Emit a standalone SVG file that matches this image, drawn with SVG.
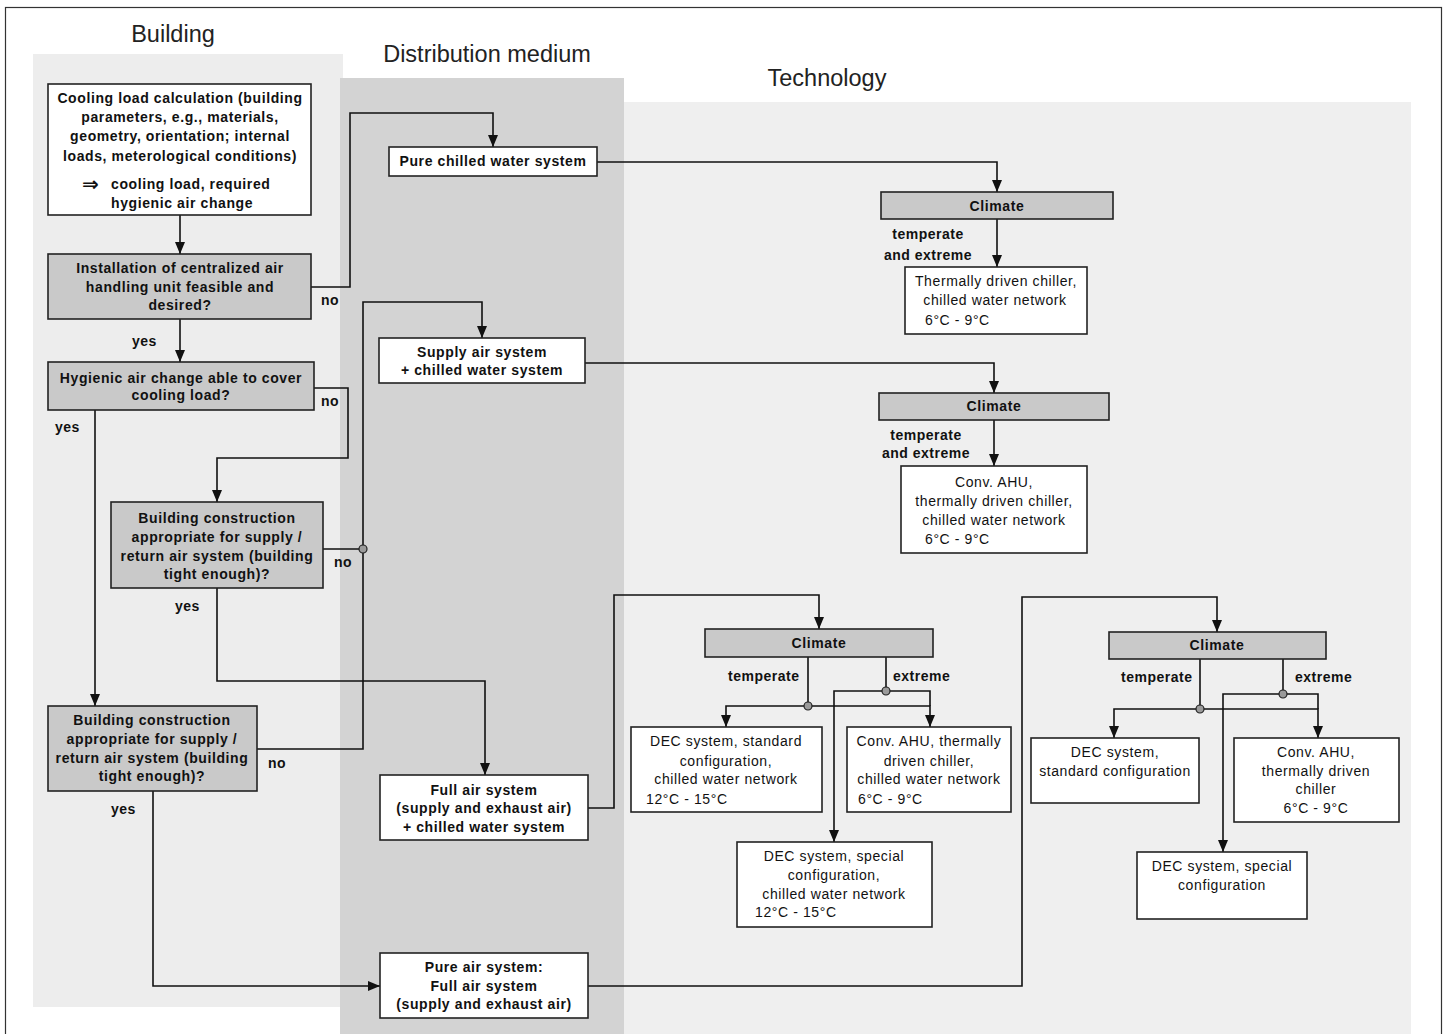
<svg xmlns="http://www.w3.org/2000/svg" width="1447" height="1034" viewBox="0 0 1447 1034">
<defs>
<marker id="arr" viewBox="0 0 12 10" refX="12" refY="5" markerWidth="12" markerHeight="10" markerUnits="userSpaceOnUse" orient="auto"><path d="M0,0 L12,5 L0,10 z" fill="#111"/></marker>
<style>
.title{font-family:"Liberation Sans",Arial,sans-serif;font-size:23.5px;fill:#222;text-anchor:middle}
.box{fill:#fff;stroke:#222;stroke-width:1.6}
.gbox{fill:#c9c9c9;stroke:#222;stroke-width:1.6}
.tb{font-family:"Liberation Sans",Arial,sans-serif;font-size:14px;letter-spacing:0.6px;font-weight:bold;fill:#111;text-anchor:middle}
.tr{font-family:"Liberation Sans",Arial,sans-serif;font-size:14px;letter-spacing:0.6px;fill:#111;text-anchor:middle}
.tl{text-anchor:start}
.lbl{font-family:"Liberation Sans",Arial,sans-serif;font-size:14px;letter-spacing:0.5px;font-weight:bold;fill:#111}
.c{fill:none;stroke:#111;stroke-width:1.6}
.a{marker-end:url(#arr)}
.j{fill:#9a9a9a;stroke:#222;stroke-width:1.2}
</style>
</defs>
<rect x="0" y="0" width="1447" height="1034" fill="#fff"/>
<rect x="5.5" y="7.5" width="1436" height="1040" fill="none" stroke="#333" stroke-width="1.2"/>
<g id="panels">
<rect x="33" y="54" width="310" height="953" fill="#ededed"/>
<rect x="624" y="102" width="787" height="932" fill="#efefef"/>
<rect x="340" y="78" width="284" height="956" fill="#d3d3d3"/>
</g>
<g id="titles">
<text class="title" x="173" y="42">Building</text>
<text class="title" x="487" y="62">Distribution medium</text>
<text class="title" x="827" y="86">Technology</text>
</g>
<g id="connectors">
<path class="c a" d="M180,215 V254"/>
<path class="c a" d="M311,287 H350 V113 H493 V147"/>
<path class="c a" d="M180,319 V362"/>
<path class="c a" d="M314,388 H348 V458 H217 V502"/>
<path class="c a" d="M95,410 V706"/>
<path class="c" d="M323,549 H363"/>
<path class="c a" d="M257,749 H363 V302 H482 V338"/>
<path class="c a" d="M217,588 V681 H485 V775"/>
<path class="c a" d="M153,791 V986 H380"/>
<path class="c a" d="M597,162 H997 V192"/>
<path class="c a" d="M997,219 V267"/>
<path class="c a" d="M585,363 H994 V393"/>
<path class="c a" d="M994,420 V466"/>
<path class="c a" d="M588,808 H614 V595 H819 V629"/>
<path class="c a" d="M588,986 H1022 V597 H1217 V632"/>
<path class="c" d="M808,657 V706"/>
<path class="c a" d="M808,706 H726 V727"/>
<path class="c a" d="M808,706 H930 V727"/>
<path class="c" d="M886,657 V691"/>
<path class="c a" d="M886,691 H834 V842"/>
<path class="c" d="M886,691 H930 V706"/>
<path class="c" d="M1200,659 V709"/>
<path class="c a" d="M1200,709 H1114 V738"/>
<path class="c a" d="M1200,709 H1318 V738"/>
<path class="c" d="M1283,659 V694"/>
<path class="c a" d="M1283,694 H1223 V852"/>
<path class="c" d="M1283,694 H1318 V709"/>
<circle class="j" cx="363" cy="549" r="4"/>
<circle class="j" cx="808" cy="706" r="4"/>
<circle class="j" cx="886" cy="691" r="4"/>
<circle class="j" cx="1200" cy="709" r="4"/>
<circle class="j" cx="1283" cy="694" r="4"/>
</g>
<g id="labels">
<text class="lbl" x="321" y="305">no</text>
<text class="lbl" x="132" y="346">yes</text>
<text class="lbl" x="321" y="406">no</text>
<text class="lbl" x="55" y="432">yes</text>
<text class="lbl" x="334" y="567">no</text>
<text class="lbl" x="175" y="611">yes</text>
<text class="lbl" x="268" y="768">no</text>
<text class="lbl" x="111" y="814">yes</text>
<text class="lbl" x="928" y="239" text-anchor="middle">temperate</text>
<text class="lbl" x="928" y="260" text-anchor="middle">and extreme</text>
<text class="lbl" x="926" y="440" text-anchor="middle">temperate</text>
<text class="lbl" x="926" y="458" text-anchor="middle">and extreme</text>
<text class="lbl" x="728" y="681">temperate</text>
<text class="lbl" x="893" y="681">extreme</text>
<text class="lbl" x="1121" y="682">temperate</text>
<text class="lbl" x="1295" y="682">extreme</text>
</g>
<g id="n-cooling">
<rect class="box" x="48" y="84" width="263" height="131"/>
<text class="tb" x="180"><tspan x="180" y="103">Cooling load calculation (building</tspan><tspan x="180" y="122">parameters, e.g., materials,</tspan><tspan x="180" y="141">geometry, orientation; internal</tspan><tspan x="180" y="161">loads, meterological conditions)</tspan></text>
<text x="82" y="191" font-family="DejaVu Sans, sans-serif" font-size="20" font-weight="bold" fill="#111">⇒</text>
<text class="tb tl"><tspan x="111" y="189">cooling load, required</tspan><tspan x="111" y="208">hygienic air change</tspan></text>
</g>
<g id="n-install">
<rect class="gbox" x="48" y="254" width="263" height="65"/>
<text class="tb"><tspan x="180" y="273">Installation of centralized air</tspan><tspan x="180" y="292">handling unit feasible and</tspan><tspan x="180" y="310">desired?</tspan></text>
</g>
<g id="n-hygienic">
<rect class="gbox" x="48" y="362" width="266" height="48"/>
<text class="tb"><tspan x="181" y="383">Hygienic air change able to cover</tspan><tspan x="181" y="400">cooling load?</tspan></text>
</g>
<g id="n-construction1">
<rect class="gbox" x="111" y="502" width="212" height="86"/>
<text class="tb"><tspan x="217" y="523">Building construction</tspan><tspan x="217" y="542">appropriate for supply /</tspan><tspan x="217" y="561">return air system (building</tspan><tspan x="217" y="579">tight enough)?</tspan></text>
</g>
<g id="n-construction2">
<rect class="gbox" x="48" y="706" width="209" height="85"/>
<text class="tb"><tspan x="152" y="725">Building construction</tspan><tspan x="152" y="744">appropriate for supply /</tspan><tspan x="152" y="763">return air system (building</tspan><tspan x="152" y="781">tight enough)?</tspan></text>
</g>
<g id="n-purewater">
<rect class="box" x="389" y="147" width="208" height="29"/>
<text class="tb" x="493" y="166">Pure chilled water system</text>
</g>
<g id="n-supplyair">
<rect class="box" x="379" y="338" width="206" height="45"/>
<text class="tb"><tspan x="482" y="357">Supply air system</tspan><tspan x="482" y="375">+ chilled water system</tspan></text>
</g>
<g id="n-fullair">
<rect class="box" x="380" y="775" width="208" height="65"/>
<text class="tb"><tspan x="484" y="795">Full air system</tspan><tspan x="484" y="813">(supply and exhaust air)</tspan><tspan x="484" y="832">+ chilled water system</tspan></text>
</g>
<g id="n-pureair">
<rect class="box" x="380" y="953" width="208" height="65"/>
<text class="tb"><tspan x="484" y="972">Pure air system:</tspan><tspan x="484" y="991">Full air system</tspan><tspan x="484" y="1009">(supply and exhaust air)</tspan></text>
</g>
<g id="n-climate1">
<rect class="gbox" x="881" y="192" width="232" height="27"/>
<text class="tb" x="997" y="211">Climate</text>
</g>
<g id="n-chiller1">
<rect class="box" x="905" y="267" width="182" height="67"/>
<text class="tr"><tspan x="996" y="286">Thermally driven chiller,</tspan><tspan x="995" y="305">chilled water network</tspan><tspan x="925" y="325" text-anchor="start">6°C - 9°C</tspan></text>
</g>
<g id="n-climate2">
<rect class="gbox" x="879" y="393" width="230" height="27"/>
<text class="tb" x="994" y="411">Climate</text>
</g>
<g id="n-ahu1">
<rect class="box" x="901" y="466" width="186" height="87"/>
<text class="tr"><tspan x="994" y="487">Conv. AHU,</tspan><tspan x="994" y="506">thermally driven chiller,</tspan><tspan x="994" y="525">chilled water network</tspan><tspan x="925" y="544" text-anchor="start">6°C - 9°C</tspan></text>
</g>
<g id="n-climate3">
<rect class="gbox" x="705" y="629" width="228" height="28"/>
<text class="tb" x="819" y="648">Climate</text>
</g>
<g id="n-decstd3">
<rect class="box" x="631" y="727" width="191" height="85"/>
<text class="tr"><tspan x="726" y="746">DEC system, standard</tspan><tspan x="726" y="766">configuration,</tspan><tspan x="726" y="784">chilled water network</tspan><tspan x="646" y="804" text-anchor="start">12°C - 15°C</tspan></text>
</g>
<g id="n-ahu3">
<rect class="box" x="847" y="727" width="164" height="85"/>
<text class="tr"><tspan x="929" y="746">Conv. AHU, thermally</tspan><tspan x="929" y="766">driven chiller,</tspan><tspan x="929" y="784">chilled water network</tspan><tspan x="858" y="804" text-anchor="start">6°C - 9°C</tspan></text>
</g>
<g id="n-decsp3">
<rect class="box" x="737" y="842" width="195" height="85"/>
<text class="tr"><tspan x="834" y="861">DEC system, special</tspan><tspan x="834" y="880">configuration,</tspan><tspan x="834" y="899">chilled water network</tspan><tspan x="755" y="917" text-anchor="start">12°C - 15°C</tspan></text>
</g>
<g id="n-climate4">
<rect class="gbox" x="1109" y="632" width="217" height="27"/>
<text class="tb" x="1217" y="650">Climate</text>
</g>
<g id="n-decstd4">
<rect class="box" x="1031" y="738" width="168" height="65"/>
<text class="tr"><tspan x="1115" y="757">DEC system,</tspan><tspan x="1115" y="776">standard configuration</tspan></text>
</g>
<g id="n-ahu4">
<rect class="box" x="1234" y="738" width="165" height="84"/>
<text class="tr"><tspan x="1316" y="757">Conv. AHU,</tspan><tspan x="1316" y="776">thermally driven</tspan><tspan x="1316" y="794">chiller</tspan><tspan x="1316" y="813">6°C - 9°C</tspan></text>
</g>
<g id="n-decsp4">
<rect class="box" x="1137" y="852" width="170" height="67"/>
<text class="tr"><tspan x="1222" y="871">DEC system, special</tspan><tspan x="1222" y="890">configuration</tspan></text>
</g>
</svg>
